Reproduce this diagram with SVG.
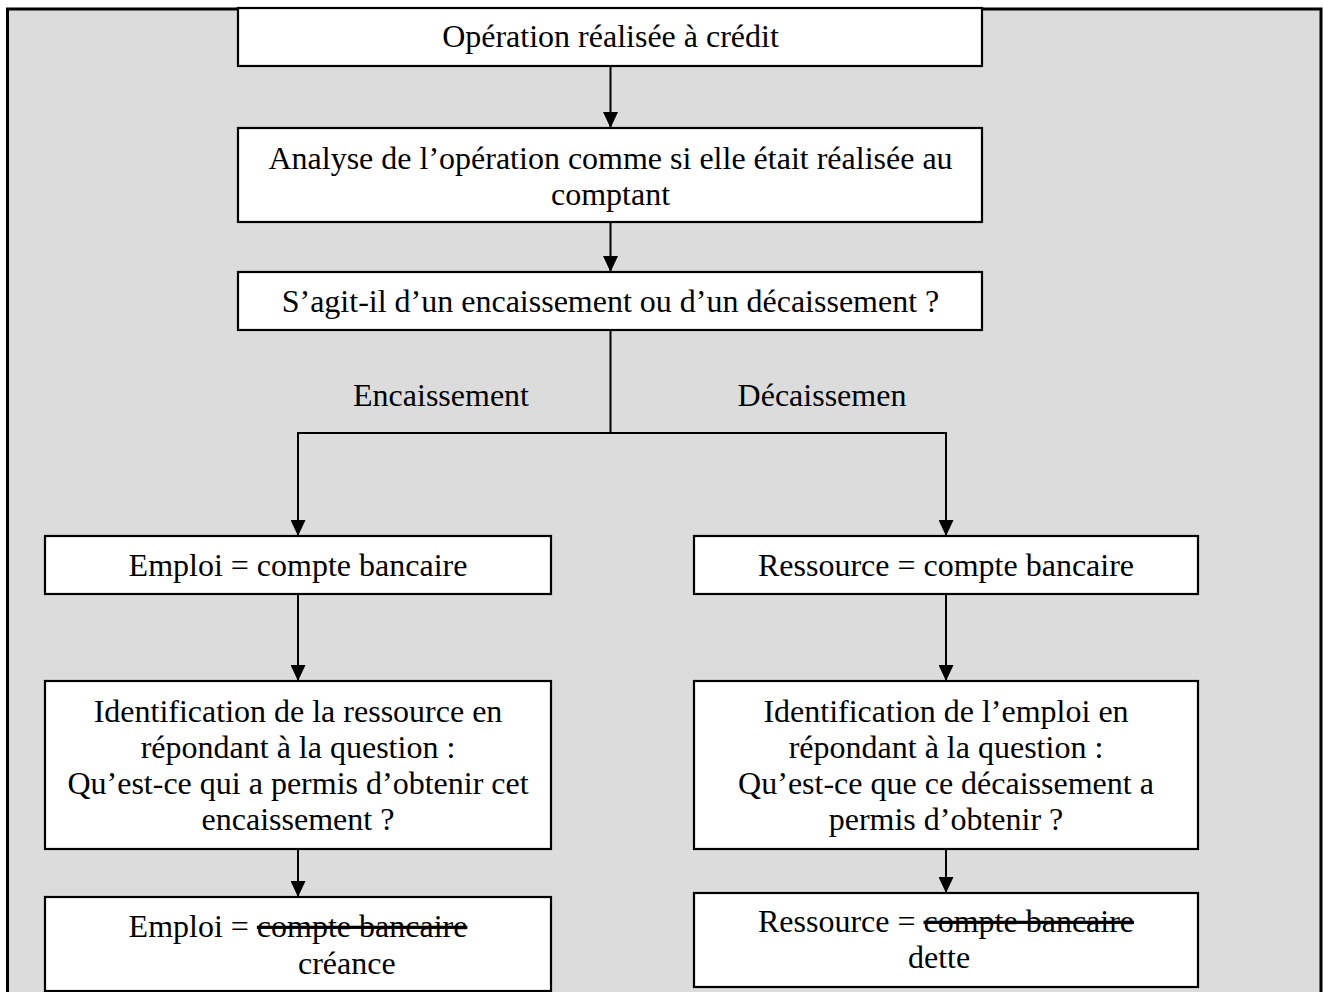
<svg xmlns="http://www.w3.org/2000/svg" width="1323" height="992" viewBox="0 0 1323 992">
<style>
.box{fill:#ffffff;stroke:#000000;stroke-width:2.2}
.t{font-family:"Liberation Serif","Times New Roman",serif;font-size:32px;fill:#000000}
.c{text-anchor:middle}
.ln{stroke:#000000;stroke-width:2;fill:none}
.strike{text-decoration:line-through}
</style>
<defs>
<marker id="arr" viewBox="0 0 16 15" refX="16" refY="7.5" markerWidth="16" markerHeight="15" markerUnits="userSpaceOnUse" orient="auto">
<path d="M0,0 L16,7.5 L0,15 Z" fill="#000000"/>
</marker>
</defs>
<rect x="0" y="0" width="1323" height="992" fill="#ffffff"/>
<rect id="frame" x="7.5" y="9" width="1313.5" height="1000" fill="#dcdcdc" stroke="#000000" stroke-width="3"/>
<g id="connectors">
<line class="ln" x1="610.5" y1="66" x2="610.5" y2="128" marker-end="url(#arr)"/>
<line class="ln" x1="610.5" y1="222" x2="610.5" y2="272" marker-end="url(#arr)"/>
<polyline class="ln" points="610.5,330 610.5,433"/>
<polyline class="ln" points="298,535 298,433 946,433 946,535"/>
<line class="ln" x1="298" y1="433" x2="298" y2="536" marker-end="url(#arr)"/>
<line class="ln" x1="946" y1="433" x2="946" y2="536" marker-end="url(#arr)"/>
<line class="ln" x1="298" y1="594" x2="298" y2="681" marker-end="url(#arr)"/>
<line class="ln" x1="946" y1="594" x2="946" y2="681" marker-end="url(#arr)"/>
<line class="ln" x1="298" y1="849" x2="298" y2="897" marker-end="url(#arr)"/>
<line class="ln" x1="946" y1="849" x2="946" y2="893" marker-end="url(#arr)"/>
<text class="t c" x="441" y="406">Encaissement</text>
<text class="t c" x="822" y="406">Décaissemen</text>
</g>
<g id="n1">
<rect class="box" x="238" y="8" width="744" height="58"/>
<text class="t c" x="610.5" y="47">Opération réalisée à crédit</text>
</g>
<g id="n2">
<rect class="box" x="238" y="128" width="744" height="94"/>
<text class="t c" x="610.5" y="169">Analyse de l’opération comme si elle était réalisée au</text>
<text class="t c" x="610.5" y="205">comptant</text>
</g>
<g id="n3">
<rect class="box" x="238" y="272" width="744" height="58"/>
<text class="t c" x="610.5" y="312">S’agit-il d’un encaissement ou d’un décaissement ?</text>
</g>
<g id="n4">
<rect class="box" x="45" y="536" width="506" height="58"/>
<text class="t c" x="298" y="576">Emploi = compte bancaire</text>
</g>
<g id="n5">
<rect class="box" x="45" y="681" width="506" height="168"/>
<text class="t c" x="298" y="722">Identification de la ressource en</text>
<text class="t c" x="298" y="758">répondant à la question :</text>
<text class="t c" x="298" y="794">Qu’est-ce qui a permis d’obtenir cet</text>
<text class="t c" x="298" y="830">encaissement ?</text>
</g>
<g id="n6">
<rect class="box" x="45" y="897" width="506" height="94"/>
<text class="t c" x="298" y="937">Emploi = <tspan class="strike">compte bancaire</tspan></text>
<text class="t" x="298" y="974">créance</text>
</g>
<g id="n7">
<rect class="box" x="694" y="536" width="504" height="58"/>
<text class="t c" x="946" y="576">Ressource = compte bancaire</text>
</g>
<g id="n8">
<rect class="box" x="694" y="681" width="504" height="168"/>
<text class="t c" x="946" y="722">Identification de l’emploi en</text>
<text class="t c" x="946" y="758">répondant à la question :</text>
<text class="t c" x="946" y="794">Qu’est-ce que ce décaissement a</text>
<text class="t c" x="946" y="830">permis d’obtenir ?</text>
</g>
<g id="n9">
<rect class="box" x="694" y="893" width="504" height="94"/>
<text class="t c" x="946" y="932">Ressource = <tspan class="strike">compte bancaire</tspan></text>
<text class="t" x="908" y="968">dette</text>
</g>
</svg>
